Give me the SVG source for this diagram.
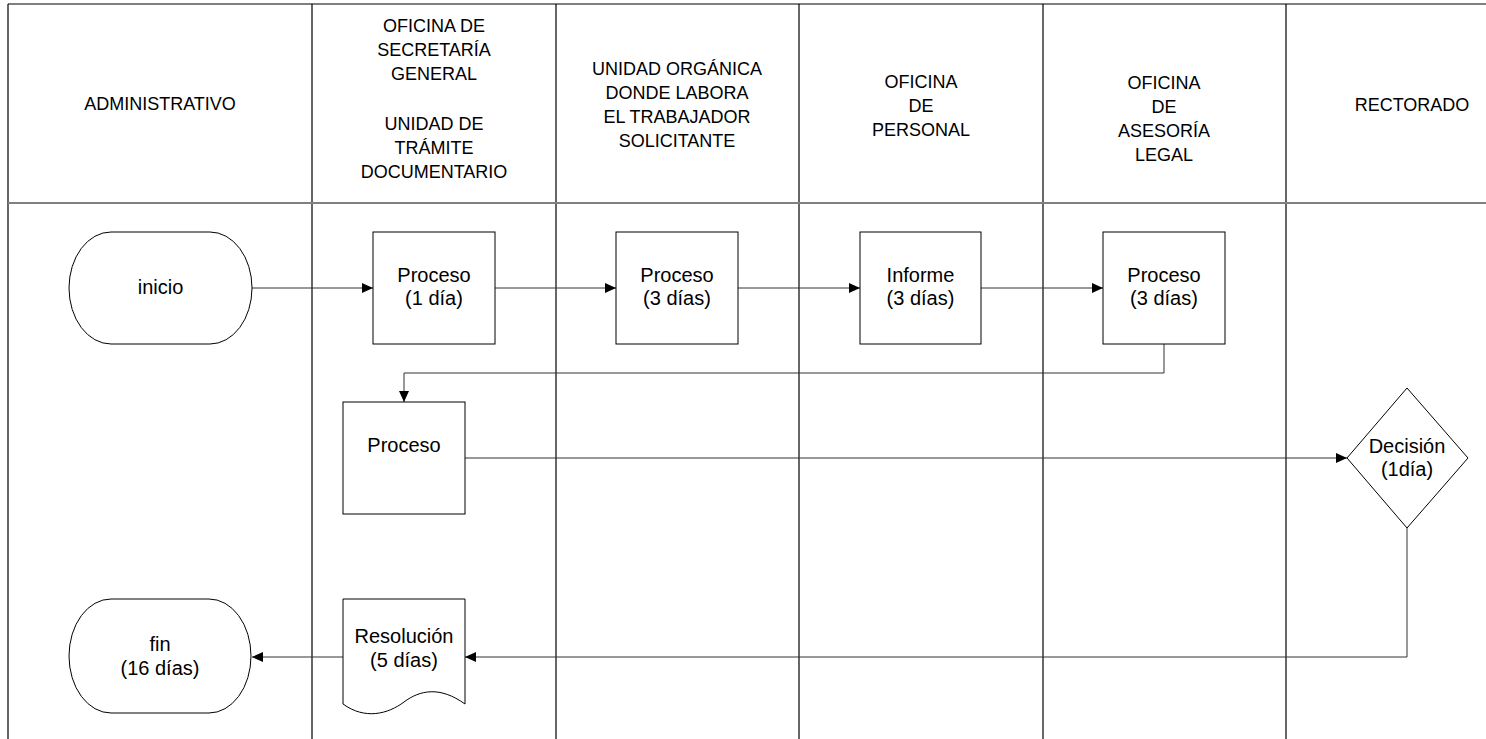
<svg xmlns="http://www.w3.org/2000/svg" width="1486" height="739" viewBox="0 0 1486 739">
<style>
text{font-family:"Liberation Sans",Arial,sans-serif;fill:#000;text-anchor:middle}
.h{font-size:18px}
.n{font-size:20px}
.lane{stroke:#000;stroke-width:1.2;fill:none}
.sep{stroke:#808080;stroke-width:2;fill:none}
.shape{fill:#fff;stroke:#000;stroke-width:1}
.c{stroke:#333;stroke-width:1;fill:none}
</style>
<defs>
<marker id="ah" markerWidth="12" markerHeight="10" refX="11" refY="5" orient="auto" markerUnits="userSpaceOnUse">
<path d="M0,0 L11,5 L0,10 Z" fill="#000"/>
</marker>
</defs>
<rect width="1486" height="739" fill="#fff"/>
<g id="lanes">
<line class="lane" x1="8" y1="4" x2="1486" y2="4"/>
<line class="lane" x1="8" y1="4" x2="8" y2="739"/>
<line class="lane" x1="312" y1="4" x2="312" y2="739"/>
<line class="lane" x1="556" y1="4" x2="556" y2="739"/>
<line class="lane" x1="799" y1="4" x2="799" y2="739"/>
<line class="lane" x1="1043" y1="4" x2="1043" y2="739"/>
<line class="lane" x1="1286" y1="4" x2="1286" y2="739"/>
<line class="sep" x1="8" y1="203" x2="1486" y2="203"/>
</g>
<g id="headers">
<text class="h" x="160" y="110">ADMINISTRATIVO</text>
<text class="h" x="434"><tspan x="434" y="32">OFICINA  DE</tspan><tspan x="434" y="56">SECRETARÍA</tspan><tspan x="434" y="80">GENERAL</tspan><tspan x="434" y="130">UNIDAD DE</tspan><tspan x="434" y="154">TRÁMITE</tspan><tspan x="434" y="178">DOCUMENTARIO</tspan></text>
<text class="h" x="677"><tspan x="677" y="75">UNIDAD ORGÁNICA</tspan><tspan x="677" y="99">DONDE LABORA</tspan><tspan x="677" y="123">EL TRABAJADOR</tspan><tspan x="677" y="147">SOLICITANTE</tspan></text>
<text class="h" x="921"><tspan x="921" y="88">OFICINA</tspan><tspan x="921" y="112">DE</tspan><tspan x="921" y="136">PERSONAL</tspan></text>
<text class="h" x="1164"><tspan x="1164" y="89">OFICINA</tspan><tspan x="1164" y="113">DE</tspan><tspan x="1164" y="137">ASESORÍA</tspan><tspan x="1164" y="161">LEGAL</tspan></text>
<text class="h" x="1412" y="111">RECTORADO</text>
</g>
<g id="connectors">
<line class="c" x1="252" y1="288" x2="373" y2="288" marker-end="url(#ah)"/>
<line class="c" x1="495" y1="288" x2="616" y2="288" marker-end="url(#ah)"/>
<line class="c" x1="738" y1="288" x2="860" y2="288" marker-end="url(#ah)"/>
<line class="c" x1="981" y1="288" x2="1103" y2="288" marker-end="url(#ah)"/>
<polyline class="c" points="1164,344 1164,373 404,373 404,402" marker-end="url(#ah)"/>
<line class="c" x1="465" y1="458" x2="1347" y2="458" marker-end="url(#ah)"/>
<polyline class="c" points="1407,528 1407,657 465,657" marker-end="url(#ah)"/>
<line class="c" x1="343" y1="657" x2="252" y2="657" marker-end="url(#ah)"/>
</g>
<g id="inicio">
<rect class="shape" x="69" y="232" width="183" height="112" rx="42" ry="56"/>
<text class="n" x="160.5" y="294">inicio</text>
</g>
<g id="proceso1">
<rect class="shape" x="373" y="232" width="122" height="112"/>
<text class="n"><tspan x="434" y="282">Proceso</tspan><tspan x="434" y="305">(1 día)</tspan></text>
</g>
<g id="proceso2">
<rect class="shape" x="616" y="232" width="122" height="112"/>
<text class="n"><tspan x="677" y="282">Proceso</tspan><tspan x="677" y="305">(3 días)</tspan></text>
</g>
<g id="informe">
<rect class="shape" x="860" y="232" width="121" height="112"/>
<text class="n"><tspan x="920.5" y="282">Informe</tspan><tspan x="920.5" y="305">(3 días)</tspan></text>
</g>
<g id="proceso3">
<rect class="shape" x="1103" y="232" width="122" height="112"/>
<text class="n"><tspan x="1164" y="282">Proceso</tspan><tspan x="1164" y="305">(3 días)</tspan></text>
</g>
<g id="proceso4">
<rect class="shape" x="343" y="402" width="122" height="112"/>
<text class="n" x="404" y="452">Proceso</text>
</g>
<g id="decision">
<polygon class="shape" points="1407,388 1468,458 1407,528 1347,458"/>
<text class="n"><tspan x="1407" y="453">Decisión</tspan><tspan x="1407" y="476">(1día)</tspan></text>
</g>
<g id="resolucion">
<path class="shape" d="M343,599 H465 V704 C440,686 420,690 404,702 S365,720 343,704 Z"/>
<text class="n"><tspan x="404" y="643">Resolución</tspan><tspan x="404" y="667">(5 días)</tspan></text>
</g>
<g id="fin">
<rect class="shape" x="69" y="599" width="182" height="114" rx="42" ry="57"/>
<text class="n"><tspan x="160" y="651">fin</tspan><tspan x="160" y="675">(16 días)</tspan></text>
</g>
</svg>
